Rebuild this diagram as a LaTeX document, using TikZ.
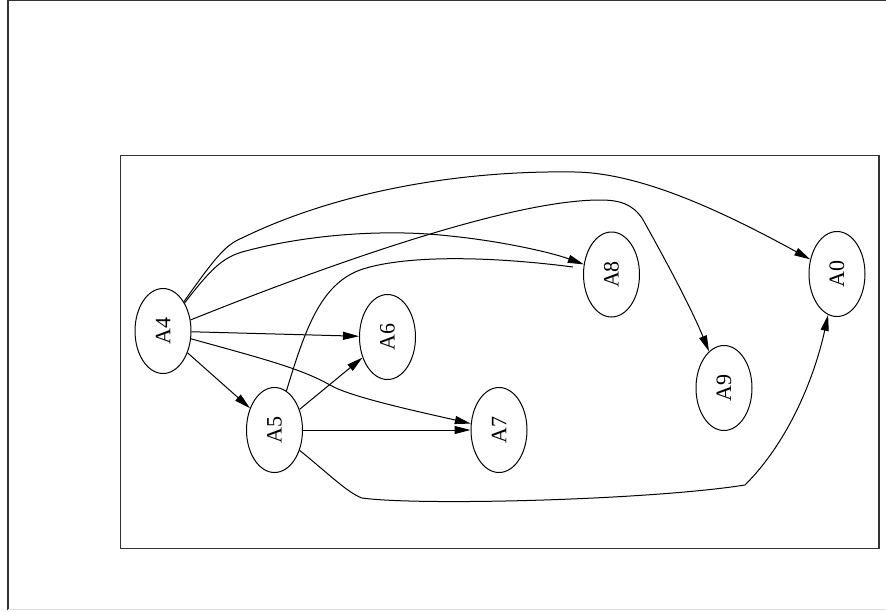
\documentclass[tikz,border=0pt]{standalone}
\usepackage{fontspec}
\setmainfont{Liberation Serif}
\usetikzlibrary{shapes.geometric,arrows.meta}
\tikzset{
  gnode/.style={draw, ellipse, line width=0.75pt, minimum width=42pt, minimum height=63.75pt, inner sep=0pt, font=\fontsize{16.5}{19}\selectfont},
  gedge/.style={line width=0.75pt, -{Triangle[length=12pt,width=6pt]}},
  gline/.style={line width=0.75pt},
  frame/.style={line width=0.9pt, draw=black!80}
}
\newcommand{\rlab}[1]{\rotatebox{90}{#1}}
\begin{document}
\begin{tikzpicture}[x=0.75pt,y=-0.75pt]
\useasboundingbox (0,0) rectangle (886,611);
% outer frame (partly outside the page)
\draw[frame] (8,609.5) -- (8,0.7) -- (886,0.7);
\draw[line width=0.75pt, draw=black!12] (8,609.6) -- (886,609.6);
% inner frame
\draw[frame] (120.5,155.7) rectangle (879,548.5);
% nodes
\node[gnode] (A4) at (163,331) {\rlab{A4}};
\node[gnode] (A6) at (387.5,337) {\rlab{A6}};
\node[gnode] (A5) at (274.5,430) {\rlab{A5}};
\node[gnode] (A7) at (499,430) {\rlab{A7}};
\node[gnode] (A8) at (611.5,274.5) {\rlab{A8}};
\node[gnode] (A0) at (837,274) {\rlab{A0}};
\node[gnode] (A9) at (724,388) {\rlab{A9}};
\coordinate (e58) at (573,267);
% edges
\draw[gedge] (A4) .. controls (215,258) and (225,245) .. (242,238)
  .. controls (330,195) and (450,170) .. (575,172)
  .. controls (640,173) and (720,210) .. (A0);
\draw[gedge] (A4) .. controls (210,270) and (222,258) .. (242,252)
  .. controls (300,236) and (380,228) .. (450,236)
  .. controls (500,241) and (550,252) .. (A8);
\draw[gedge] (A4) .. controls (290,280) and (500,200) .. (600,200)
  .. controls (620,200) and (632,204) .. (642,218)
  .. controls (660,250) and (690,305) .. (A9);
\draw[gedge] (A4) -- (A6);
\draw[gedge] (A4) .. controls (260,358) and (300,368) .. (330,385)
  .. controls (350,397) and (420,412) .. (A7);
\draw[gedge] (A4) -- (A5);
\draw[gedge] (A5) -- (A6);
\draw[gedge] (A5) -- (A7);
\draw[gline] (A5) .. controls (305,330) and (320,285) .. (360,270)
  .. controls (400,256) and (480,255) .. (e58);
\draw[gedge] (A5) .. controls (330,475) and (348,493) .. (362,498)
  .. controls (420,506) and (650,500) .. (745,485)
  .. controls (790,440) and (815,375) .. (A0);
\end{tikzpicture}
\end{document}
